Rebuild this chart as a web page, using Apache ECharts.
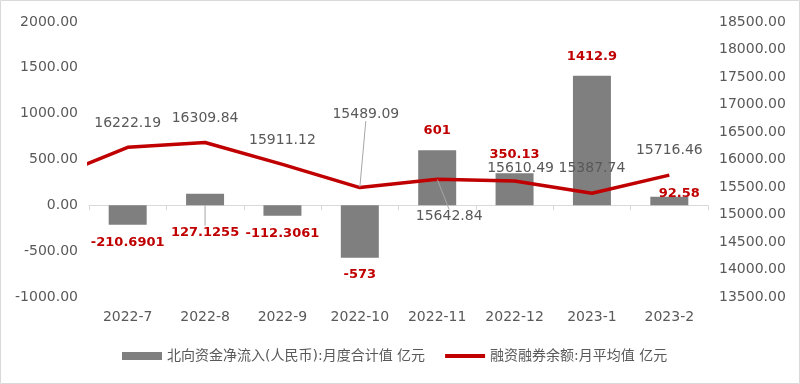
<!DOCTYPE html>
<html>
<head>
<meta charset="utf-8">
<script src="https://cdn.jsdelivr.net/npm/echarts@6/dist/echarts.min.js"></script>
<style>
html,body{margin:0;padding:0;background:#fff;}
#chart{width:800px;height:384px;}
</style>
</head>
<body>
<div id="chart"></div>
<script>
// ---- data ----
const categories = ['2022-7', '2022-8', '2022-9', '2022-10', '2022-11', '2022-12', '2023-1', '2023-2'];
const northboundFlow = [-210.6901, 127.1255, -112.3061, -573, 601, 350.13, 1412.9, 92.58];
const marginBalance = [16222.19, 16309.84, 15911.12, 15489.09, 15642.84, 15610.49, 15387.74, 15716.46];
// previous month (2022-6), only visible as the line entering from the left edge (estimated)
const priorMarginBalance = 15650;
const barName = '北向资金净流入(人民币):月度合计值 亿元';
const lineName = '融资融券余额:月平均值 亿元';
const leftAxis = { min: -1000, max: 2000, interval: 500 };
const rightAxis = { min: 13500, max: 18500, interval: 500 };

// ---- label placement (styling) ----
const barLabelMove = [
  { pos: 'bottom', dx: 0, dy: 6 },
  { pos: 'top', dx: 0, dy: 50, line: true },
  { pos: 'bottom', dx: 0, dy: 6 },
  { pos: 'bottom', dx: 0, dy: 5 },
  { pos: 'top', dx: 0, dy: -8 },
  { pos: 'top', dx: 0, dy: -7 },
  { pos: 'top', dx: 0, dy: -8 },
  { pos: 'top', dx: 10, dy: 8 }
];
const lineLabelMove = [
  { pos: 'top', dx: 0, dy: -11 },
  { pos: 'top', dx: 0, dy: -12 },
  { pos: 'top', dx: 0, dy: -12 },
  { pos: 'top', dx: 6, dy: -61, line: true },
  { pos: 'bottom', dx: 12, dy: 25, line: true },
  { pos: 'top', dx: 6, dy: 0 },
  { pos: 'top', dx: 0, dy: -12 },
  { pos: 'top', dx: 0, dy: -12 }
];

const FONT = "'DejaVu Sans', 'Noto Sans CJK SC', sans-serif";
const GRAY = '#595959';
const RED = '#c00000';

const barData = northboundFlow.map((v, i) => ({
  value: v,
  label: { position: barLabelMove[i].pos },
  labelLine: { show: !!barLabelMove[i].line }
}));
const lineData = [{ value: [-1, priorMarginBalance], label: { show: false } }].concat(
  marginBalance.map((v, i) => ({
    value: [i, v],
    label: { position: lineLabelMove[i].pos },
    labelLine: { show: !!lineLabelMove[i].line }
  }))
);

const chart = echarts.init(document.getElementById('chart'), null, { renderer: 'canvas' });
chart.setOption({
  animation: false,
  textStyle: { fontFamily: FONT },
  graphic: [{
    type: 'rect', silent: true, z: -10,
    shape: { x: 0.5, y: 0.5, width: 799, height: 383 },
    style: { fill: 'none', stroke: '#d9d9d9', lineWidth: 1 }
  }],
  grid: { left: 89, right: 92, top: 22, bottom: 87 },
  legend: {
    left: 117, top: 344,
    itemWidth: 40, itemHeight: 8, itemGap: 18,
    textStyle: { color: GRAY, fontSize: 14, fontFamily: FONT },
    data: [
      { name: barName, icon: 'rect' },
      { name: lineName, lineStyle: { width: 4, color: RED } }
    ]
  },
  xAxis: [
    {
      type: 'category', data: categories, position: 'bottom',
      axisLine: { show: false, onZero: false }, axisTick: { show: false },
      axisLabel: { color: GRAY, fontSize: 14, margin: 13, fontFamily: FONT }
    },
    { type: 'value', min: -0.5, max: 7.5, show: false },
    {
      type: 'category', data: categories, position: 'bottom',
      axisLine: { show: true, onZero: true, onZeroAxisIndex: 0, lineStyle: { color: '#d9d9d9', width: 1 } },
      axisTick: { show: true, length: 5, lineStyle: { color: '#d9d9d9' } },
      axisLabel: { show: false }
    }
  ],
  yAxis: [
    {
      type: 'value', min: leftAxis.min, max: leftAxis.max, interval: leftAxis.interval,
      splitLine: { show: false }, axisLine: { show: false }, axisTick: { show: false },
      axisLabel: { color: GRAY, fontSize: 14, margin: 11, fontFamily: FONT, formatter: v => v.toFixed(2) }
    },
    {
      type: 'value', min: rightAxis.min, max: rightAxis.max, interval: rightAxis.interval,
      splitLine: { show: false }, axisLine: { show: false }, axisTick: { show: false },
      axisLabel: { color: GRAY, fontSize: 14, margin: 11, fontFamily: FONT, formatter: v => v.toFixed(2) }
    }
  ],
  series: [
    {
      name: barName, type: 'bar', xAxisIndex: 0, yAxisIndex: 0,
      barWidth: 38,
      itemStyle: { color: '#7f7f7f' },
      label: {
        show: true, color: RED, fontWeight: 'bold', fontSize: 13, fontFamily: FONT,
        formatter: p => String(p.value)
      },
      labelLine: { lineStyle: { color: '#a6a6a6', width: 1 } },
      labelLayout: p => ({ dx: barLabelMove[p.dataIndex].dx, dy: barLabelMove[p.dataIndex].dy }),
      data: barData, z: 2
    },
    {
      name: lineName, type: 'line', xAxisIndex: 1, yAxisIndex: 1,
      clip: true,
      symbol: 'circle', symbolSize: 1, showSymbol: true,
      itemStyle: { color: 'rgba(0,0,0,0)' },
      lineStyle: { color: RED, width: 3.5 },
      label: {
        show: true, color: GRAY, fontSize: 14, fontFamily: FONT,
        formatter: p => p.value[1].toFixed(2)
      },
      labelLine: { lineStyle: { color: '#a6a6a6', width: 1 } },
      labelLayout: p => {
        const m = lineLabelMove[p.dataIndex - 1];
        return m ? { dx: m.dx, dy: m.dy } : {};
      },
      data: lineData, z: 5
    }
  ]
});
</script>
</body>
</html>
